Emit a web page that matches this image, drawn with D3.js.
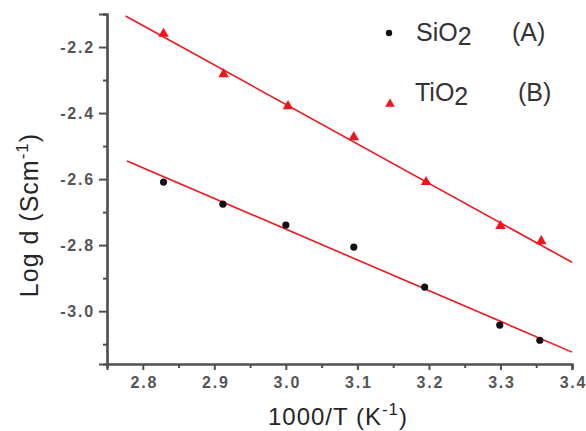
<!DOCTYPE html>
<html lang="en">
<head>
  <meta charset="UTF-8">
  <title>Log d vs 1000/T</title>
  <script src="https://cdn.jsdelivr.net/npm/d3@7"></script>
  <style>
    body { margin: 0; background: #fff; }
    .tick-label { font-family: 'Liberation Sans', Arial, sans-serif; font-weight: bold; font-size: 16px; fill: #555; letter-spacing: 1.8px; }
    .title { font-family: 'Liberation Sans', Arial, sans-serif; font-size: 24px; fill: #262626; }
    .legend { font-family: 'Liberation Sans', Arial, sans-serif; font-size: 25px; fill: #333; }
  </style>
</head>
<body>
  <div id="chart"></div>
  <script>
    // data
    const xSiO2 = [2.829, 2.912, 3.0, 3.095, 3.194, 3.299, 3.355];
    const ySiO2 = [-2.609, -2.676, -2.739, -2.806, -2.927, -3.042, -3.088];
    const xTiO2 = [2.829, 2.913, 3.003, 3.095, 3.196, 3.30, 3.357];
    const yTiO2 = [-2.16, -2.282, -2.379, -2.473, -2.609, -2.742, -2.788];
    // fitted lines (end points)
    const fitSiO2 = [[2.778, -2.545], [3.4, -3.124]];
    const fitTiO2 = [[2.776, -2.106], [3.4, -2.852]];
    const xTicks = [2.8, 2.9, 3.0, 3.1, 3.2, 3.3, 3.4];
    const xMinor = [2.85, 2.95, 3.05, 3.15, 3.25, 3.35];
    const yTicks = [-2.2, -2.4, -2.6, -2.8, -3.0];
    const yMinor = [-2.1, -2.3, -2.5, -2.7, -2.9, -3.1];

    const w = 586, h = 431;
    const mLeft = 107, mRight = 572, mTop = 14, mBottom = 364;

    const x = d3.scaleLinear().domain([2.75, 3.4]).range([mLeft, mRight]);
    const y = d3.scaleLinear().domain([-3.16, -2.1]).range([mBottom, mTop]);

    const svg = d3.select("#chart").append("svg")
      .attr("width", w).attr("height", h);

    const axisColor = "#505050";

    // x axis
    const gx = svg.append("g").attr("transform", "translate(0," + mBottom + ")")
      .call(d3.axisBottom(x).tickValues(xMinor).tickSize(4).tickFormat(""));
    const gx2 = svg.append("g").attr("transform", "translate(0," + mBottom + ")")
      .call(d3.axisBottom(x).tickValues(xTicks).tickSize(6).tickPadding(7).tickFormat(d3.format(".1f")));

    // y axis
    const gy = svg.append("g").attr("transform", "translate(" + mLeft + ",0)")
      .call(d3.axisLeft(y).tickValues(yMinor).tickSize(4).tickFormat(""));
    const gy2 = svg.append("g").attr("transform", "translate(" + mLeft + ",0)")
      .call(d3.axisLeft(y).tickValues(yTicks).tickSize(8).tickPadding(4).tickFormat(d => d3.format(".1f")(d).replace("−", "-")));

    [gx, gx2, gy, gy2].forEach(g => {
      g.select(".domain").attr("stroke", axisColor).attr("stroke-width", 2.2);
      g.selectAll("line").attr("stroke", axisColor).attr("stroke-width", 2);
      g.selectAll("text").attr("class", "tick-label");
    });
    gx2.selectAll("text").attr("dx", 1);

    // fit lines
    const line = d3.line().x(d => x(d[0])).y(d => y(d[1]));
    [fitTiO2, fitSiO2].forEach(f => {
      svg.append("path").attr("d", line(f))
        .attr("fill", "none").attr("stroke", "#f0141e").attr("stroke-width", 1.6);
    });

    // SiO2 points
    svg.selectAll(".si").data(xSiO2).enter().append("circle")
      .attr("cx", d => x(d)).attr("cy", (d, i) => y(ySiO2[i]))
      .attr("r", 3.6).attr("fill", "#111");

    // TiO2 points
    const tri = d3.symbol().type(d3.symbolTriangle).size(48);
    svg.selectAll(".ti").data(xTiO2).enter().append("path")
      .attr("d", tri)
      .attr("transform", (d, i) => "translate(" + x(d) + "," + y(yTiO2[i]) + ")")
      .attr("fill", "#f0141e");

    // legend
    svg.append("circle").attr("cx", 389).attr("cy", 33).attr("r", 3.2).attr("fill", "#111");
    const l1 = svg.append("text").attr("class", "legend").attr("x", 416).attr("y", 41);
    l1.append("tspan").text("SiO");
    l1.append("tspan").attr("dy", 4).text("2");
    svg.append("text").attr("class", "legend").attr("x", 512).attr("y", 41).text("(A)");

    svg.append("path").attr("d", d3.symbol().type(d3.symbolTriangle).size(40))
      .attr("transform", "translate(390,104)").attr("fill", "#f0141e");
    const l2 = svg.append("text").attr("class", "legend").attr("x", 415).attr("y", 101);
    l2.append("tspan").text("TiO");
    l2.append("tspan").attr("dy", 4).text("2");
    svg.append("text").attr("class", "legend").attr("x", 518).attr("y", 101).text("(B)");

    // axis titles
    const xt = svg.append("text").attr("class", "title")
      .attr("x", 338).attr("y", 425).attr("text-anchor", "middle")
      .style("letter-spacing", "1px");
    xt.append("tspan").text("1000/T (K");
    xt.append("tspan").attr("dy", -10).attr("font-size", 17).text("-1");
    xt.append("tspan").attr("dy", 10).text(")");

    const yt = svg.append("text").attr("class", "title")
      .attr("transform", "translate(38,215) rotate(-90)").attr("text-anchor", "middle")
      .style("font-size", "25px").style("letter-spacing", "1px");
    yt.append("tspan").text("Log d (Scm");
    yt.append("tspan").attr("dy", -10).attr("font-size", 17).text("-1");
    yt.append("tspan").attr("dy", 10).text(")");
  </script>
</body>
</html>
